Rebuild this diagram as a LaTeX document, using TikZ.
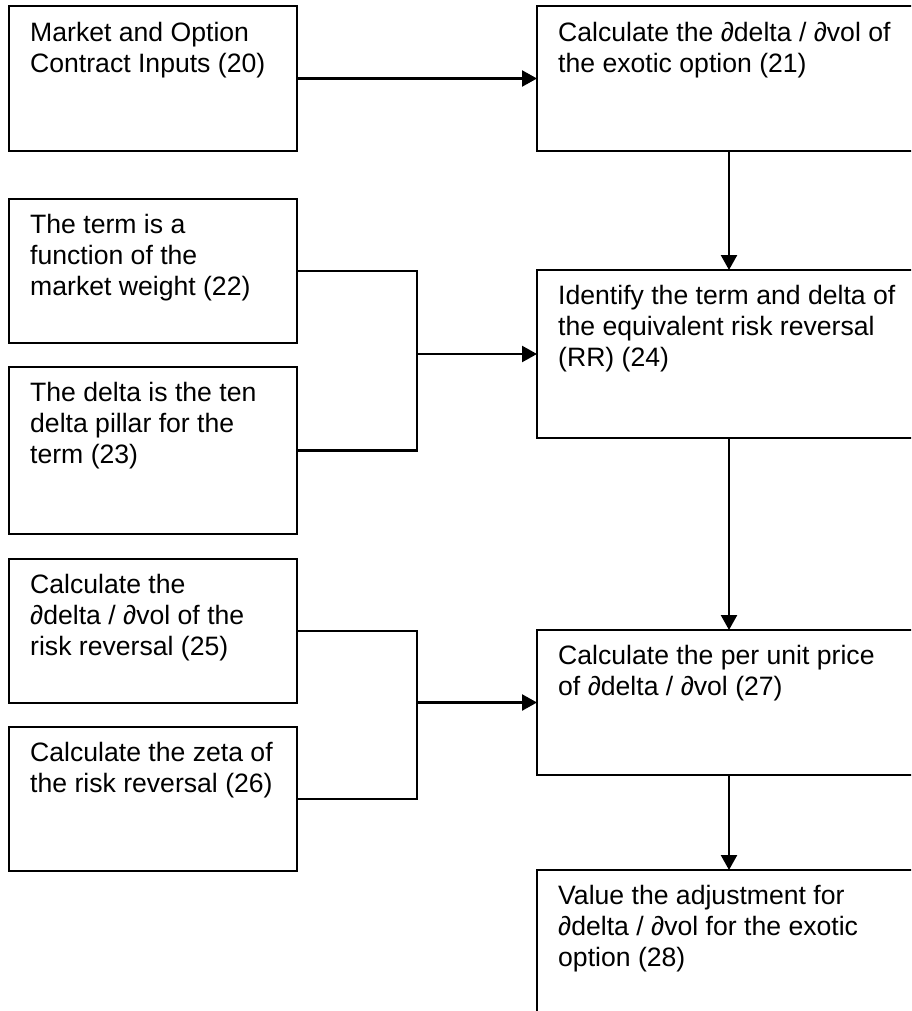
\documentclass[tikz,border=0pt]{standalone}
\usepackage{fontspec}
\setmainfont{Liberation Sans}
\usetikzlibrary{arrows.meta}
\begin{document}
\begin{tikzpicture}[x=1pt,y=-1pt,
  box/.style={draw=black, line width=2.2pt, rectangle, anchor=north west, inner sep=0pt, outer sep=0pt},
  lbl/.style={anchor=north west, inner sep=0pt, align=left, font=\fontsize{26.6}{31}\selectfont},
  conn/.style={draw=black, line width=2.4pt},
  arr/.style={conn, -{Triangle[length=15pt,width=16pt]}}]
\clip (0,0) rectangle (911,1011);
\fill[white] (0,0) rectangle (911,1011);
% left boxes
\node[box, minimum width=288pt, minimum height=145pt] (b20) at (9,6) {};
\node[box, minimum width=288pt, minimum height=144pt] (b22) at (9,199) {};
\node[box, minimum width=288pt, minimum height=167pt] (b23) at (9,367) {};
\node[box, minimum width=288pt, minimum height=144pt] (b25) at (9,559) {};
\node[box, minimum width=288pt, minimum height=144pt] (b26) at (9,727) {};
% right boxes
\node[box, minimum width=384pt, minimum height=145pt] (b21) at (537,6) {};
\node[box, minimum width=384pt, minimum height=168pt] (b24) at (537,270) {};
\node[box, minimum width=384pt, minimum height=145pt] (b27) at (537,630) {};
\node[box, minimum width=384pt, minimum height=170pt] (b28) at (537,870) {};
% texts
\node[lbl] (t20) at (30,22) {Market and Option\\Contract Inputs (20)};
\node[lbl] (t21) at (558,22) {Calculate the ∂delta / ∂vol of\\the exotic option (21)};
\node[lbl] (t22) at (30,214) {The term is a\\function of the\\market weight (22)};
\node[lbl] (t23) at (30,382) {The delta is the ten\\delta pillar for the\\term (23)};
\node[lbl] (t24) at (558,285) {Identify the term and delta of\\the equivalent risk reversal\\(RR) (24)};
\node[lbl] (t25) at (30,574) {Calculate the\\∂delta / ∂vol of the\\risk reversal (25)};
\node[lbl] (t26) at (30,742) {Calculate the zeta of\\the risk reversal (26)};
\node[lbl] (t27) at (558,645) {Calculate the per unit price\\of ∂delta / ∂vol (27)};
\node[lbl] (t28) at (558,885) {Value the adjustment for\\∂delta / ∂vol for the exotic\\option (28)};
% connectors
\coordinate (j1) at (417,354);
\coordinate (j2) at (417,702.5);
\draw[arr] (b20.east) -- (b21.west |- b20.east);
\draw[arr] (b21.south) -- (b24.north);
\draw[conn] (b22.east) -| (j1) |- (b23.east);
\draw[arr] (j1) -- (b24.west);
\draw[arr] (b24.south) -- (b27.north);
\draw[conn] (b25.east) -| (j2) |- (b26.east);
\draw[arr] (j2) -- (b27.west);
\draw[arr] (b27.south) -- (b28.north);
\end{tikzpicture}
\end{document}
